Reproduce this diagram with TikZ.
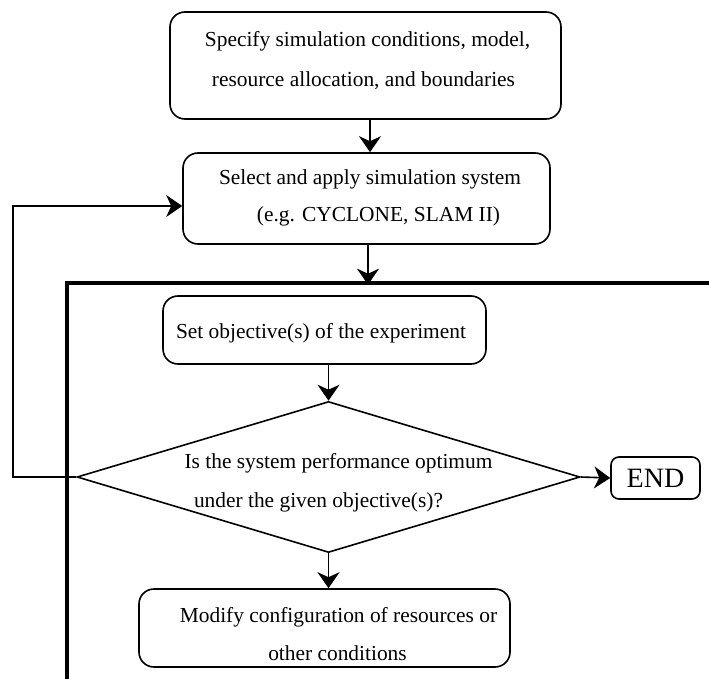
\documentclass[tikz,border=0pt]{standalone}
\usepackage{fontspec}
\setmainfont{Liberation Serif}
\usetikzlibrary{arrows.meta,shapes.geometric}
\begin{document}
\begin{tikzpicture}[x=1pt,y=-1pt,
  box/.style={draw,line width=1.6pt,rounded corners=15pt,inner sep=0pt},
  txt/.style={anchor=base,inner sep=0pt,font=\fontsize{21.4}{26}\selectfont},
  flow/.style={line width=1.6pt,-{Stealth[length=16pt,width=22pt,inset=5pt]}},
  frame/.style={line width=3.3pt}]
\useasboundingbox (0,0) rectangle (709,679);

% process boxes and their text lines
\node[box,minimum width=391pt,minimum height=107pt] (b1) at (365.5,65.5) {};
\node[txt] (t1a) at (367.5,47) {Specify simulation conditions, model,};
\node[txt] (t1b) at (363.5,87) {resource allocation, and boundaries};

\node[box,minimum width=367pt,minimum height=91pt] (b2) at (366.5,198.5) {};
\node[txt] (t2a) at (370,185) {Select and apply simulation system};
\node[txt] (t2b) at (378.5,222) {(e.g. CYCLONE, SLAM II)};

\node[box,minimum width=323pt,minimum height=68pt] (b3) at (324.5,330) {};
\node[txt] (t3) at (321,338) {Set objective(s) of the experiment};

\node[draw,line width=1.6pt,diamond,minimum width=503pt,minimum height=151pt,inner sep=0pt] (d) at (328.5,477) {};
\node[txt] (tda) at (338.5,468) {Is the system performance optimum};
\node[txt] (tdb) at (318.5,507) {under the given objective(s)?};

\node[box,rounded corners=8pt,minimum width=89pt,minimum height=42pt] (e) at (655.5,478) {};
\node[txt,font=\fontsize{28}{30}\selectfont] (te) at (655.5,487) {END};

\node[box,minimum width=371pt,minimum height=78pt] (b4) at (324.5,628) {};
\node[txt] (t4a) at (338.5,622) {Modify configuration of resources or};
\node[txt] (t4b) at (337.5,660) {other conditions};

% open frame around the experiment loop
\coordinate (fc) at (67,283);
\coordinate (ft) at (368,283);
\draw[frame] (67,679) -- (fc) -- (709,283);

% connectors
\draw[flow] (b1.south -| 370,0) -- (b2.north -| 370,0);
\draw[flow] (b2.south -| ft) -- ([yshift=-1.7pt]ft);
\draw[flow] (b3.south -| d.north) -- (d.north);
\draw[flow] (d.east) -- (e.west);
\draw[flow] (d.south) -- (b4.north -| d.south);
\coordinate (lp) at (13,206);
\draw[flow] (d.west) -- (d.west -| lp) -- (lp) -- (lp -| b2.west);
\end{tikzpicture}
\end{document}
